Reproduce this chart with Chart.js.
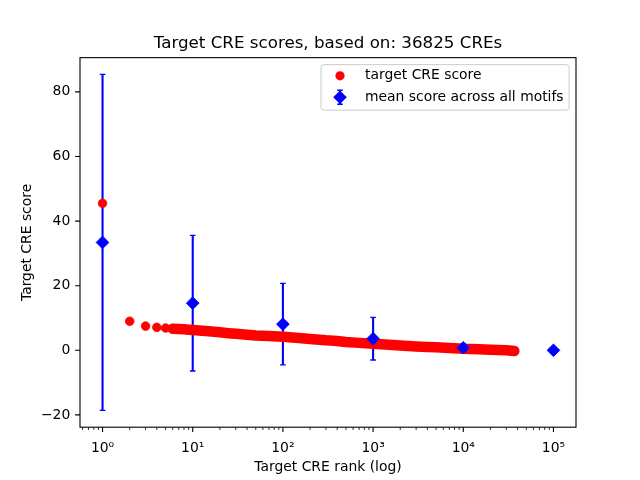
<!DOCTYPE html>
<html><head><meta charset="utf-8">
<script src="https://cdn.jsdelivr.net/npm/chart.js@4"></script>
<style>html,body{margin:0;padding:0;background:#fff}canvas{display:block}</style>
</head><body>
<canvas id="c" width="640" height="480"></canvas>
<script>
// ---- data ----
const creRank  = [1,2,3,4,5,6,7,8,9,10,15,20,25,30,40,50,70,100,150,200,300,400,500,700,1000,1500,2000,3000,4000,5000,7000,10000,15000,20000,30000,36825];
const creScore = [45.5,9.0,7.5,7.1,6.9,6.7,6.6,6.5,6.4,6.3,5.9,5.6,5.3,5.1,4.8,4.6,4.4,4.2,3.8,3.5,3.1,2.9,2.6,2.3,2.0,1.7,1.5,1.2,1.05,0.95,0.75,0.5,0.35,0.2,0.0,-0.2];
const motifRank = [1,10,100,1000,10000,100000];
const motifMean = [33.4,14.6,8.1,3.6,0.8,0.0];
const motifErr  = [52.0,21.0,12.6,6.6,1.0,0.0];
const xTickValues = [1,10,100,1000,10000,100000];
const xTickLabels = ['10⁰','10¹','10²','10³','10⁴','10⁵'];
const yTickValues = [-20,0,20,40,60,80];
const titleText = 'Target CRE scores, based on: 36825 CREs';
const xTitle = 'Target CRE rank (log)';
const yTitle = 'Target CRE score';
const creLabel = 'target CRE score';
const motifLabel = 'mean score across all motifs';

const RED = '#ff0000', BLUE = '#0000ff';
const FONT = 'DejaVu Sans';
const FS = 13.9;
Chart.defaults.font.family = FONT;
Chart.defaults.font.size = FS;
Chart.defaults.color = '#000';

const dotCount = 10;     // individually visible markers
const bandStart = 5;     // dense band drawn from this index on
const dots = creRank.slice(0, dotCount).map((r, i) => ({x: r, y: creScore[i]}));
const band = creRank.slice(bandStart).map((r, i) => ({x: r, y: creScore[i + bandStart]}));
const motifs = motifRank.map((r, i) => ({x: r, y: motifMean[i]}));

const decor = {
  id: 'decor',
  beforeDatasetsDraw(chart) {
    const {ctx, scales: {x, y}} = chart;
    ctx.save();
    ctx.strokeStyle = BLUE;
    motifRank.forEach((r, i) => {
      if (!motifErr[i]) return;
      const px = x.getPixelForValue(r);
      const y1 = y.getPixelForValue(motifMean[i] - motifErr[i]);
      const y2 = y.getPixelForValue(motifMean[i] + motifErr[i]);
      ctx.lineWidth = 2.1;
      ctx.beginPath(); ctx.moveTo(px, y1); ctx.lineTo(px, y2); ctx.stroke();
      ctx.lineWidth = 1.3;
      ctx.beginPath();
      ctx.moveTo(px - 2.8, y1); ctx.lineTo(px + 2.8, y1);
      ctx.moveTo(px - 2.8, y2); ctx.lineTo(px + 2.8, y2);
      ctx.stroke();
    });
    ctx.restore();
  },
  afterDraw(chart) {
    const {ctx, chartArea: a, scales: {x, y}} = chart;
    ctx.save();
    // frame
    ctx.strokeStyle = '#000'; ctx.lineWidth = 1.1;
    ctx.strokeRect(a.left, a.top, a.right - a.left, a.bottom - a.top);
    // ticks
    ctx.beginPath();
    xTickValues.forEach(v => { const p = x.getPixelForValue(v); ctx.moveTo(p, a.bottom); ctx.lineTo(p, a.bottom + 4.9); });
    yTickValues.forEach(v => { const p = y.getPixelForValue(v); ctx.moveTo(a.left, p); ctx.lineTo(a.left - 4.9, p); });
    ctx.stroke();
    ctx.lineWidth = 0.8;
    ctx.beginPath();
    for (let n = -1; n <= 5; n++) {
      for (let k = 2; k <= 9; k++) {
        const v = k * Math.pow(10, n);
        if (v < x.min || v > x.max) continue;
        const p = x.getPixelForValue(v);
        ctx.moveTo(p, a.bottom); ctx.lineTo(p, a.bottom + 2.8);
      }
    }
    ctx.stroke();
    // legend
    ctx.font = FS + 'px "' + FONT + '"';
    const labels = [creLabel, motifLabel];
    const maxW = Math.max(...labels.map(t => ctx.measureText(t).width));
    const right = a.right - 6.9, top = a.top + 7;
    const w = 44 + maxW + 5.5, h = 45.5;
    const left = right - w;
    ctx.fillStyle = 'rgba(255,255,255,0.8)';
    ctx.strokeStyle = '#cccccc'; ctx.lineWidth = 1;
    ctx.beginPath(); ctx.roundRect(left, top, w, h, 3); ctx.fill(); ctx.stroke();
    const r1 = top + 11.2, r2 = top + 32.6, mx = left + 19;
    ctx.fillStyle = RED;
    ctx.beginPath(); ctx.arc(mx, r1, 4.6, 0, Math.PI * 2); ctx.fill();
    ctx.strokeStyle = BLUE; ctx.fillStyle = BLUE;
    ctx.lineWidth = 2.1;
    ctx.beginPath(); ctx.moveTo(mx, r2 - 7); ctx.lineTo(mx, r2 + 7); ctx.stroke();
    ctx.lineWidth = 1.3;
    ctx.beginPath(); ctx.moveTo(mx - 2.8, r2 - 7); ctx.lineTo(mx + 2.8, r2 - 7);
    ctx.moveTo(mx - 2.8, r2 + 7); ctx.lineTo(mx + 2.8, r2 + 7); ctx.stroke();
    ctx.beginPath(); ctx.moveTo(mx, r2 - 6.8); ctx.lineTo(mx + 6.8, r2); ctx.lineTo(mx, r2 + 6.8); ctx.lineTo(mx - 6.8, r2); ctx.closePath(); ctx.fill();
    ctx.fillStyle = '#000'; ctx.textBaseline = 'middle'; ctx.textAlign = 'left';
    ctx.fillText(labels[0], left + 44, r1);
    ctx.fillText(labels[1], left + 44, r2);
    ctx.restore();
  }
};

new Chart(document.getElementById('c'), {
  type: 'scatter',
  data: {
    datasets: [
      {label: motifLabel, data: motifs, order: 0, pointStyle: 'rectRot', pointRadius: 6.3, pointBorderWidth: 1,
       backgroundColor: BLUE, borderColor: BLUE, showLine: false},
      {label: creLabel, data: dots, order: 1, pointStyle: 'circle', pointRadius: 4.3, pointBorderWidth: 0.8,
       backgroundColor: RED, borderColor: RED, showLine: false},
      {label: 'band', data: band, order: 2, pointRadius: 0, showLine: true, borderWidth: 10.5,
       borderColor: RED, backgroundColor: RED, borderCapStyle: 'round', borderJoinStyle: 'round', tension: 0}
    ]
  },
  options: {
    responsive: false,
    animation: false,
    devicePixelRatio: 1,
    layout: {padding: {left: 0, right: 64, top: 0, bottom: 0}},
    plugins: {
      legend: {display: false},
      tooltip: {enabled: false},
      title: {display: true, text: titleText, fullSize: false, color: '#000',
        font: {size: 16.7, weight: 'normal', family: FONT}, padding: {top: 34, bottom: 3.6}}
    },
    scales: {
      x: {
        type: 'logarithmic', position: 'bottom',
        min: Math.pow(10, -0.25), max: Math.pow(10, 5.25),
        grid: {display: false, drawTicks: false},
        border: {display: false},
        afterBuildTicks: s => { s.ticks = xTickValues.map(v => ({value: v, major: true})); },
        afterFit: s => { s.height = 52.8; },
        ticks: {autoSkip: false, maxRotation: 0, padding: 12.5, color: '#000', font: {size: FS},
          callback: v => { const i = xTickValues.indexOf(v); return i >= 0 ? xTickLabels[i] : ''; }},
        title: {display: true, text: xTitle, color: '#000', font: {size: FS}, padding: {top: 0, bottom: 4.2}}
      },
      y: {
        type: 'linear', position: 'left',
        min: -23.8, max: 90.6,
        grid: {display: false, drawTicks: false},
        border: {display: false},
        afterBuildTicks: s => { s.ticks = yTickValues.map(v => ({value: v})); },
        afterFit: s => { s.width = 80; },
        ticks: {padding: 9.7, color: '#000', font: {size: FS}, callback: v => (v < 0 ? '\u2212' + Math.abs(v) : String(v))},
        title: {display: true, text: yTitle, color: '#000', font: {size: FS}, padding: {top: 18.7, bottom: 0}}
      }
    }
  },
  plugins: [decor]
});
</script>
</body></html>
